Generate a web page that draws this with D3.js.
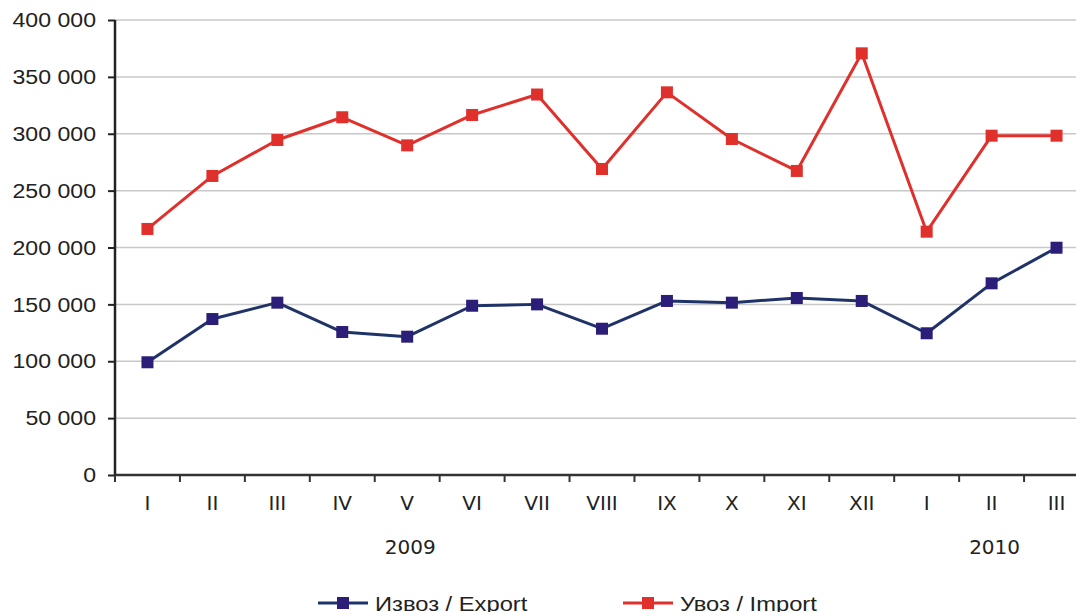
<!DOCTYPE html>
<html>
<head>
    <meta charset="utf-8">
    <title>Export / Import</title>
    <script src="https://d3js.org/d3.v7.min.js"></script>
    <style>
        body {
            margin: 0;
            background: #ffffff;
        }
        svg {
            display: block;
        }
        .y-axis text {
            font-family: "Liberation Sans", Arial, sans-serif;
            font-size: 21px;
            fill: #222;
        }
        .x-axis text {
            font-family: "DejaVu Sans", Verdana, sans-serif;
            font-size: 20px;
            fill: #222;
        }
        .year-label {
            font-family: "DejaVu Sans", Verdana, sans-serif;
            font-size: 20px;
            fill: #222;
        }
        .grid line {
            stroke: #c8c8c8;
            stroke-width: 1.5px;
        }
        .legend text {
            font-family: "Liberation Sans", Arial, sans-serif;
            font-size: 21px;
            fill: #222;
        }
    </style>
</head>
<body>
<div id="chart"></div>
<script>
    // month labels along the x axis (Jan 2009 .. Mar 2010)
    const monthLabels = ["I", "II", "III", "IV", "V", "VI", "VII", "VIII", "IX", "X", "XI", "XII", "I", "II", "III"];
    const yearLabels = [
        { text: "2009", at: 4 },
        { text: "2010", at: 13 }
    ];
    const exportValues = [99100, 137100, 151500, 125700, 121600, 148800, 150000, 128600, 153000, 151500, 155600, 153000, 124600, 168500, 199800];
    const importValues = [216300, 262900, 294500, 314500, 289800, 316500, 334500, 269000, 336400, 295400, 267300, 370700, 213900, 298300, 298300];
    const yTicks = [0, 50000, 100000, 150000, 200000, 250000, 300000, 350000, 400000];

    const series = [
        { name: "Извоз / Export", values: exportValues, line: "#1f3368", marker: "#2b1e78" },
        { name: "Увоз / Import", values: importValues, line: "#e0302c", marker: "#e0302c" }
    ];

    const width = 1076;
    const height = 612;
    const margin = { top: 20, right: -13, bottom: 137, left: 115 };
    const innerWidth = width - margin.left - margin.right;
    const innerHeight = height - margin.top - margin.bottom;

    // the source picture is a bit stretched sideways
    const stretch = 1.1;

    const locale = d3.formatLocale({ decimal: ",", thousands: " ", grouping: [3], currency: ["", ""] });
    const fmt = locale.format(",d");

    const svg = d3.select('#chart').append('svg')
        .attr('width', width)
        .attr('height', height);

    const g = svg.append('g')
        .attr('transform', `translate(${margin.left},${margin.top})`);

    const keys = monthLabels.map((d, i) => i);

    const xScale = d3.scaleBand()
        .domain(keys)
        .range([0, innerWidth])
        .padding(0);

    const yScale = d3.scaleLinear()
        .domain([0, 400000])
        .range([innerHeight, 0]);

    const xCenter = i => xScale(i) + xScale.bandwidth() / 2;

    // grid lines
    g.append('g').attr('class', 'grid')
        .selectAll('line')
        .data(yTicks.filter(d => d > 0))
        .join('line')
        .attr('x1', 0)
        .attr('x2', innerWidth)
        .attr('y1', d => yScale(d))
        .attr('y2', d => yScale(d));

    // y axis
    const yAxisG = g.append('g').attr('class', 'y-axis')
        .call(d3.axisLeft(yScale).tickValues(yTicks).tickFormat(fmt).tickSize(7).tickPadding(12));
    yAxisG.selectAll('line').attr('stroke', '#222').attr('stroke-width', 2);
    yAxisG.selectAll('text')
        .attr('x', -19 / stretch)
        .attr('transform', `scale(${stretch},1)`);
    yAxisG.select('.domain').attr('stroke', '#222').attr('stroke-width', 2.5)
        .attr('d', `M0,${innerHeight}V0`);

    // x axis
    const xAxisG = g.append('g').attr('class', 'x-axis')
        .attr('transform', `translate(0,${innerHeight})`)
        .call(d3.axisBottom(xScale).tickFormat(i => monthLabels[i]).tickSize(0).tickPadding(21));
    xAxisG.select('.domain').attr('stroke', '#333').attr('stroke-width', 2.5)
        .attr('d', `M0,0H${innerWidth}`);

    // tick marks on category boundaries
    xAxisG.selectAll('.bound')
        .data(keys)
        .join('line')
        .attr('class', 'bound')
        .attr('x1', d => xScale(d))
        .attr('x2', d => xScale(d))
        .attr('y1', 0)
        .attr('y2', 7)
        .attr('stroke', '#333')
        .attr('stroke-width', 2);

    g.selectAll('.year-label')
        .data(yearLabels)
        .join('text')
        .attr('class', 'year-label')
        .attr('x', d => xCenter(d.at) + 3)
        .attr('y', innerHeight + 79)
        .attr('text-anchor', 'middle')
        .text(d => d.text);

    // lines + markers
    const line = d3.line()
        .x((d, i) => xCenter(i))
        .y(d => yScale(d));

    series.forEach(s => {
        g.append('path')
            .datum(s.values)
            .attr('fill', 'none')
            .attr('stroke', s.line)
            .attr('stroke-width', 3)
            .attr('stroke-linejoin', 'round')
            .attr('d', line);

        g.selectAll(null)
            .data(s.values)
            .join('rect')
            .attr('x', (d, i) => xCenter(i) - 6)
            .attr('y', d => yScale(d) - 6)
            .attr('width', 12)
            .attr('height', 12)
            .attr('fill', s.marker);
    });

    // legend
    const legend = svg.append('g').attr('class', 'legend');
    const legendX = [318, 623];
    const legendY = 603;

    const item = legend.selectAll('g')
        .data(series)
        .join('g')
        .attr('transform', (d, i) => `translate(${legendX[i]},${legendY})`);

    item.append('line')
        .attr('x1', 0).attr('x2', 50)
        .attr('y1', 0).attr('y2', 0)
        .attr('stroke', d => d.line)
        .attr('stroke-width', 3);

    item.append('rect')
        .attr('x', 19).attr('y', -6)
        .attr('width', 12).attr('height', 12)
        .attr('fill', d => d.marker);

    item.append('text')
        .attr('x', 57 / 1.13)
        .attr('y', 8)
        .attr('transform', 'scale(1.13,1)')
        .text(d => d.name);
</script>
</body>
</html>
